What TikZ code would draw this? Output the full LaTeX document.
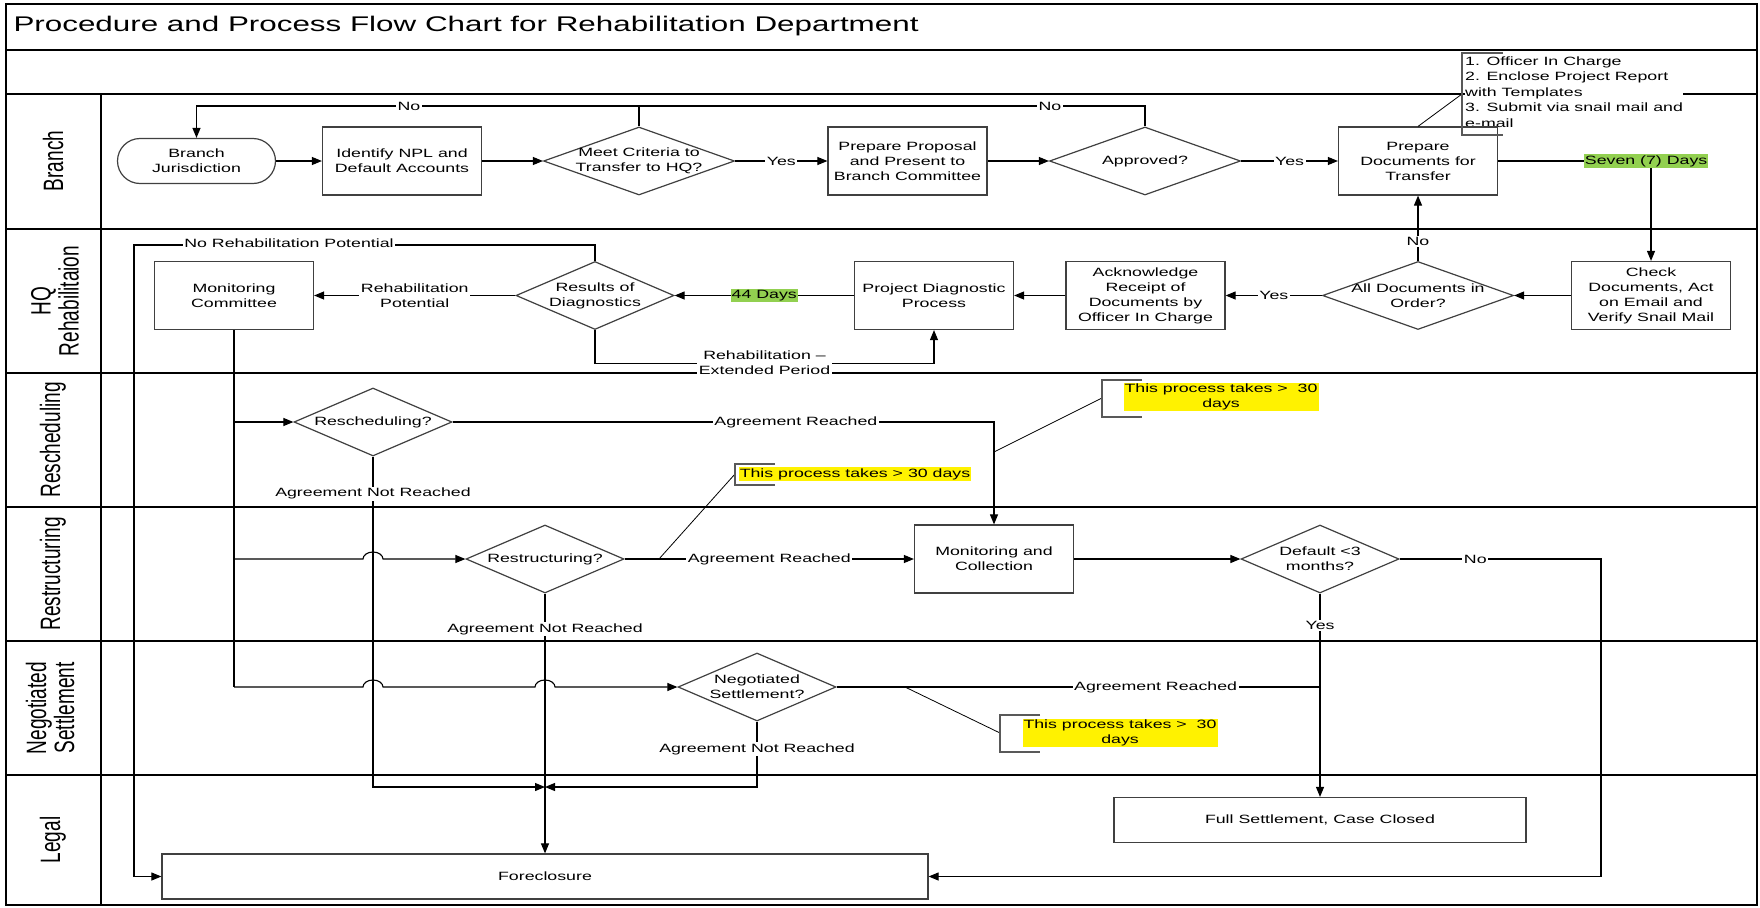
\documentclass[tikz,border=0pt]{standalone}
\usepackage{fontspec}
\setmainfont{Liberation Sans}[FakeStretch=1.48]
\newfontfamily\lanefont{Liberation Sans}[FakeStretch=0.68]
\usetikzlibrary{arrows.meta,shapes.geometric}
\definecolor{daygreen}{RGB}{146,208,80}

\begin{document}
\begin{tikzpicture}[x=1pt, y=-1pt, >={Triangle[length=10pt,width=8pt]},
    every node/.style={font=\fontsize{12}{15}\selectfont},
    every label/.style={align=center},
    box/.style={draw=black!75, line width=1.2pt, fill=white, inner sep=0pt,
        minimum width=159pt, minimum height=68pt, align=center},
    term/.style={box, rounded corners=22.5pt, minimum width=158pt, minimum height=45pt},
    decision/.style={diamond, draw=black!75, line width=1.2pt, fill=white, inner sep=0pt,
        minimum width=191pt, minimum height=68pt},
    smalldec/.style={decision, minimum width=158pt},
    flow/.style={->, line width=1.1pt},
    link/.style={line width=1.1pt},
    lbl/.style={fill=white, inner sep=1.5pt, align=center},
    days/.style={fill=daygreen, inner sep=1pt},
    hilite/.style={fill=yellow, inner sep=1pt, align=center},
    bracket/.style={draw=black!65, line width=1.2pt},
    leader/.style={line width=0.8pt},
    lane/.style={rotate=90, align=center, font=\lanefont\fontsize{28}{28}\selectfont},
    rule/.style={line width=1.3pt}]

    \useasboundingbox (0,0) rectangle (1760,907);

    % frame and swimlanes
    \draw[line width=1.6pt] (6,4) rectangle (1757,905);
    \foreach \y in {50,94,229,373,507,641,775}
        \draw[rule] (6,\y) -- (1757,\y);
    \draw[rule] (101,94) -- (101,905);
    \node[anchor=west, font=\fontsize{21.2}{25}\selectfont] (title) at (10,26) {Procedure and Process Flow Chart for Rehabilitation Department};

    \node[lane] (lbranch) at (53,161) {Branch};
    \node[lane] (lhq) at (55,301) {HQ\\Rehabilitaion};
    \node[lane] (lresch) at (53,440) {Rescheduling};
    \node[lane] (lrestr) at (53,574) {Restructuring};
    \node[lane] (lneg) at (50,708) {Negotiated\\Settlement};
    \node[lane] (llegal) at (53,840) {Legal};

    % note on the documents
    \node[anchor=west, fill=white, inner sep=0pt, align=left, font=\fontsize{12}{15.5}\selectfont] (onote) at (1465,92) {1. Officer In Charge\\2. Enclose Project Report\\with Templates\\3. Submit via snail mail and\\e-mail};

    % branch
    \node[term] (bj) at (196.5,161) {Branch\\Jurisdiction};
    \node[box] (npl) at (402,161) {Identify NPL and\\Default Accounts};
    \node[decision, label={center:Meet Criteria to\\Transfer to HQ?}] (meet) at (639,161) {};
    \node[box] (prop) at (907.5,161) {Prepare Proposal\\and Present to\\Branch Committee};
    \node[decision, label={center:Approved?}] (appr) at (1145,161) {};
    \node[box] (prep) at (1418,161) {Prepare\\Documents for\\Transfer};

    % hq rehabilitation
    \node[box] (check) at (1651,295.5) {Check\\Documents, Act\\on Email and\\Verify Snail Mail};
    \node[decision, label={center:All Documents in\\Order?}] (alldocs) at (1418,295.5) {};
    \node[box] (ack) at (1145.5,295.5) {Acknowledge\\Receipt of\\Documents by\\Officer In Charge};
    \node[box] (pdp) at (934,295.5) {Project Diagnostic\\Process};
    \node[smalldec, label={center:Results of\\Diagnostics}] (res) at (595,295.5) {};
    \node[box] (mc) at (234,295.5) {Monitoring\\Committee};

    % rescheduling, restructuring, settlement
    \node[smalldec, label={center:Rescheduling?}] (resch) at (373,422) {};
    \node[smalldec, label={center:Restructuring?}] (restr) at (545,559) {};
    \node[box] (mcoll) at (994,559) {Monitoring and\\Collection};
    \node[smalldec, label={center:Default <3\\months?}] (dflt) at (1320,559) {};
    \node[smalldec, label={center:Negotiated\\Settlement?}] (neg) at (757,687) {};

    % legal
    \node[box, minimum width=412pt, minimum height=45pt] (fs) at (1320,820) {Full Settlement, Case Closed};
    \node[box, minimum width=766pt, minimum height=45pt] (fc) at (545,876.5) {Foreclosure};

    \coordinate (nob) at (639,106);
    \coordinate (nr) at (134,245);
    \coordinate (dn) at (1601,559);
    \coordinate (m) at (545,787);

    % branch flow
    \draw[flow] (bj.east) -- (npl.west);
    \draw[flow] (npl.east) -- (meet.west);
    \draw[flow] (meet.east) -- node[lbl]{Yes} (prop.west);
    \draw[flow] (prop.east) -- (appr.west);
    \draw[flow] (appr.east) -- node[lbl]{Yes} (prep.west);
    \draw[flow] (meet.north) -- (nob) -| node[lbl, pos=0.26]{No} (bj.north);
    \draw[link] (appr.north) |- node[lbl, pos=0.594]{No} (nob);
    \draw[flow] (prep.east) -| node[days, pos=0.484]{Seven (7) Days} (check.north);

    % hq flow
    \draw[flow] (check.west) -- (alldocs.east);
    \draw[flow] (alldocs.west) -- node[lbl]{Yes} (ack.east);
    \draw[flow] (alldocs.north) -- node[lbl, pos=0.3]{No} (prep.south);
    \draw[flow] (ack.west) -- (pdp.east);
    \draw[flow] (pdp.west) -- node[days]{44 Days} (res.east);
    \draw[flow] (res.west) -- node[lbl]{Rehabilitation\\Potential} (mc.east);
    \draw[flow] (res.north) |- (nr) |- (fc.west);
    \node[lbl] (nrlbl) at (289,243) {No Rehabilitation Potential};
    \draw[flow] (res.south) -- ++(0,33) -| node[lbl, pos=0.25]{Rehabilitation --\\Extended Period} (pdp.south);

    % from the monitoring committee
    \draw[link] (mc.south) -- (mc.south |- neg.west);
    \draw[flow] (mc.south |- resch.west) -- (resch.west);
    \draw[flow] (mc.south |- restr.west) -- (363,559)
        arc[start angle=180, end angle=360, x radius=10, y radius=7] -- (restr.west);
    \draw[flow] (mc.south |- neg.west) -- (363,687)
        arc[start angle=180, end angle=360, x radius=10, y radius=7] -- (535,687)
        arc[start angle=180, end angle=360, x radius=10, y radius=7] -- (neg.west);

    \draw[flow] (resch.east) -| node[lbl, pos=0.317]{Agreement Reached} (mcoll.north);
    \draw[flow] (resch.south) |- node[lbl, pos=0.056]{Agreement Not Reached} (m);
    \draw[flow] (restr.east) -- node[lbl]{Agreement Reached} (mcoll.west);
    \draw[flow] (restr.south) -- node[lbl, pos=0.137]{Agreement Not Reached} (fc.north);
    \draw[flow] (mcoll.east) -- (dflt.west);
    \draw[flow] (dflt.east) -- node[lbl, pos=0.376]{No} (dn) |- (fc.east);
    \draw[flow] (dflt.south) -- node[lbl, pos=0.156]{Yes} (fs.north);
    \draw[link] (neg.east) -- node[lbl, pos=0.66]{Agreement Reached} (fs.north |- neg.east);
    \draw[flow] (neg.south) |- node[lbl, pos=0.21]{Agreement Not Reached} (m);

    % notes
    \node[hilite] (n1) at (855,474) {This process takes > 30 days};
    \node[hilite] (n2) at (1221,397) {This process takes >\ \ 30\\days};
    \node[hilite] (n3) at (1120,733) {This process takes >\ \ 30\\days};
    \coordinate (n1a) at (659,559);
    \coordinate (n1b) at (735,474);
    \coordinate (n2a) at (994,452);
    \coordinate (n2b) at (1102,398);
    \coordinate (n3a) at (905,687);
    \coordinate (n3b) at (1000,733);
    \coordinate (onb) at (1462,94);
    \draw[leader] (n1a) -- (n1b);
    \draw[leader] (n2a) -- (n2b);
    \draw[leader] (n3a) -- (n3b);
    \draw[leader] (prep.north) -- (onb);
    \draw[bracket] (775,464) -- (735,464) -- (735,485) -- (775,485);
    \draw[bracket] (1142,380) -- (1102,380) -- (1102,417) -- (1142,417);
    \draw[bracket] (1040,715) -- (1000,715) -- (1000,752) -- (1040,752);
    \draw[bracket] (1503,53) -- (1462,53) -- (1462,135) -- (1503,135);
\end{tikzpicture}
\end{document}
